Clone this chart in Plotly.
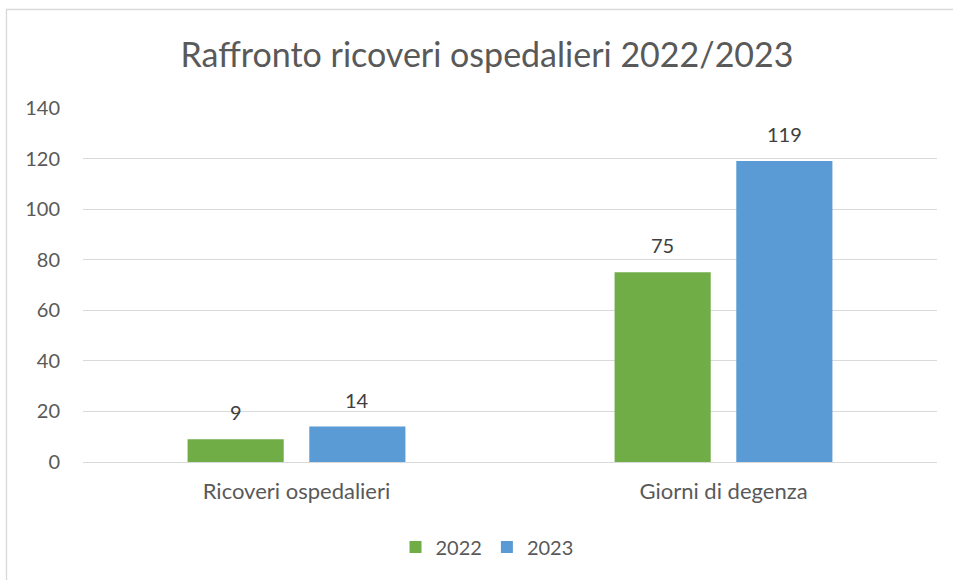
import plotly.graph_objects as go

categories = ["Ricoveri ospedalieri", "Giorni di degenza"]
series_names = ["2022", "2023"]
values_2022 = [9, 75]
values_2023 = [14, 119]
y_ticks = [0, 20, 40, 60, 80, 100, 120, 140]

colors = {"2022": "#70AD47", "2023": "#5B9BD5"}
font_family = "Lato, 'Open Sans', sans-serif"
text_color = "#595959"

W, H = 953, 580
L, R, T, B = 83, 16, 108, 118
pw, ph = W - L - R, H - T - B
bargap, bargroupgap = 0.43, 0.21
slot = pw / len(categories) * (1 - bargap) / 2  # px per bar slot

def px_x(px):
    return (px - L) / pw

def px_y(py):
    return (H - B - py) / ph

fig = go.Figure()
annotations = []
for i, (name, vals) in enumerate(zip(series_names, [values_2022, values_2023])):
    fig.add_trace(go.Bar(
        x=categories, y=vals, name=name,
        marker=dict(color=colors[name], line=dict(width=0)),
    ))
    shift = (i - 0.5) * slot
    for c, v in zip(categories, vals):
        annotations.append(dict(
            x=c, y=v, xref="x", yref="y", text=str(v), showarrow=False,
            xanchor="center", yanchor="bottom", xshift=shift, yshift=13,
            font=dict(size=20, color="#404040", family=font_family)))

fig.update_layout(
    width=W, height=H,
    margin=dict(l=L, r=R, t=T, b=B),
    paper_bgcolor="white", plot_bgcolor="white",
    barmode="group", bargap=bargap, bargroupgap=bargroupgap,
    title=dict(text="Raffronto ricoveri ospedalieri 2022/2023",
               x=487 / W, xanchor="center", y=1 - 55 / H, yanchor="middle",
               font=dict(size=34, color=text_color, family=font_family)),
    font=dict(family=font_family, color=text_color),
    legend=dict(orientation="h", x=px_x(487), xanchor="center",
                y=px_y(547), yanchor="middle",
                font=dict(size=20, color=text_color, family=font_family),
                itemwidth=30, traceorder="normal"),
    xaxis=dict(showgrid=False, showline=False, ticks="",
               ticklabelstandoff=14,
               tickfont=dict(size=22, color=text_color, family=font_family)),
    yaxis=dict(range=[0, 140], tickvals=y_ticks, showgrid=True,
               gridcolor="#D9D9D9", gridwidth=1.3, zeroline=True,
               zerolinecolor="#D9D9D9", zerolinewidth=1.3, ticks="",
               ticklabelstandoff=22,
               tickfont=dict(size=20, color=text_color, family=font_family)),
    annotations=annotations,
    shapes=[dict(type="rect", xref="paper", yref="paper",
                 x0=px_x(6.5), x1=px_x(965), y0=px_y(600), y1=px_y(9.5),
                 line=dict(color="#D9D9D9", width=1.3), layer="below")],
)

fig.write_html("out.html", config={"displayModeBar": False},
               post_script="document.body.style.margin='0';")
